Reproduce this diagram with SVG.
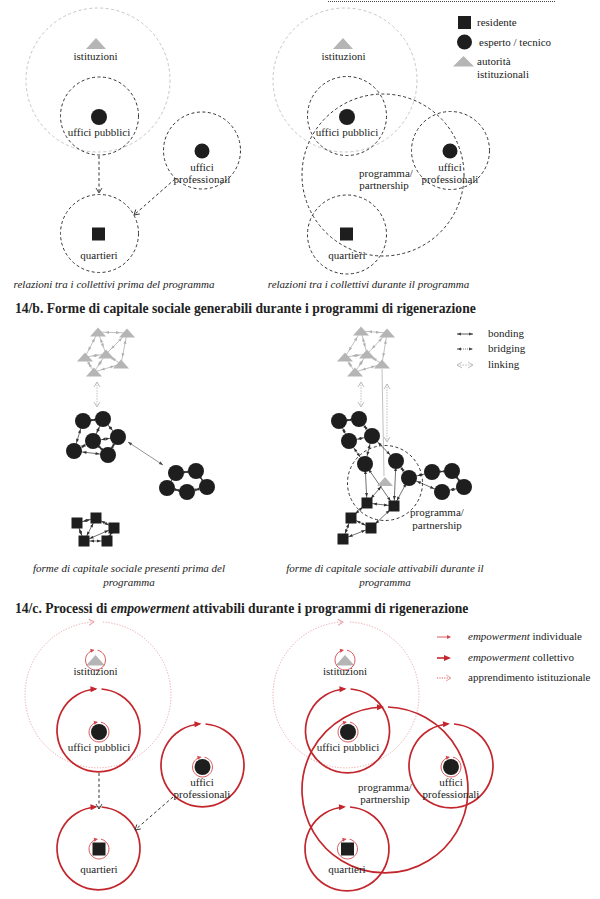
<svg xmlns="http://www.w3.org/2000/svg" width="600" height="899" viewBox="0 0 600 899">
<defs>
<style>
text{font-family:"Liberation Serif","Times New Roman",serif;fill:#222;}
.lb{font-size:11px;text-anchor:middle;}
.cap{font-size:11px;font-style:italic;text-anchor:middle;}
.ttl{font-size:13.6px;font-weight:bold;}
.lg{font-size:11px;}
.gc{fill:none;stroke:#c6c6c6;stroke-width:1;stroke-dasharray:3,2.5;}
.dc{fill:none;stroke:#333;stroke-width:1;stroke-dasharray:3,2.5;}
.dot{fill:#1e1e1e;}
.tri{fill:#b5b5b5;}
.rc{fill:none;stroke:#c3262c;stroke-width:1.7;}
.rs{fill:none;stroke:#d4474d;stroke-width:0.9;}
.pc{fill:none;stroke:#eca3a6;stroke-width:1;stroke-dasharray:1.2,1.6;}
.ge{stroke:#b9b9b9;stroke-width:0.9;fill:none;}
.be{stroke:#333;stroke-width:0.7;fill:none;}
.lk{stroke:#bdbdbd;stroke-width:1;stroke-dasharray:1.5,1.2;fill:none;}
.br{stroke:#666;stroke-width:0.7;fill:none;}
</style>
<marker id="mv" markerUnits="userSpaceOnUse" markerWidth="6" markerHeight="6" refX="5" refY="3" orient="auto" overflow="visible"><path d="M0,0 L5,3 L0,6" fill="none" stroke="#333" stroke-width="0.9"/></marker>
<marker id="gt" markerUnits="userSpaceOnUse" markerWidth="4" markerHeight="3" refX="11" refY="1.5" orient="auto-start-reverse" overflow="visible"><path d="M0,0 L4,1.5 L0,3 z" fill="#b0b0b0"/></marker>
<marker id="bc" markerUnits="userSpaceOnUse" markerWidth="4" markerHeight="3" refX="12.5" refY="1.5" orient="auto-start-reverse" overflow="visible"><path d="M0,0 L4,1.5 L0,3 z" fill="#333"/></marker>
<marker id="bs" markerUnits="userSpaceOnUse" markerWidth="4" markerHeight="3" refX="10" refY="1.5" orient="auto-start-reverse" overflow="visible"><path d="M0,0 L4,1.5 L0,3 z" fill="#333"/></marker>
<marker id="b0" markerUnits="userSpaceOnUse" markerWidth="4" markerHeight="3" refX="4" refY="1.5" orient="auto-start-reverse" overflow="visible"><path d="M0,0 L4,1.5 L0,3 z" fill="#444"/></marker>
<marker id="g0" markerUnits="userSpaceOnUse" markerWidth="6" markerHeight="6" refX="5" refY="3" orient="auto-start-reverse" overflow="visible"><path d="M0,0 L5,3 L0,6" fill="none" stroke="#bdbdbd" stroke-width="1"/></marker>
<marker id="ra" markerUnits="userSpaceOnUse" markerWidth="7" markerHeight="6" refX="5" refY="3" orient="auto" overflow="visible"><path d="M0,0 L7,3 L0,6 z" fill="#c3262c"/></marker>
<marker id="rl" markerUnits="userSpaceOnUse" markerWidth="4" markerHeight="4" refX="3" refY="2" orient="auto" overflow="visible"><path d="M0,0 L4,2 L0,4 z" fill="#d4474d"/></marker>
<marker id="pa" markerUnits="userSpaceOnUse" markerWidth="6" markerHeight="6" refX="4" refY="3" orient="auto" overflow="visible"><path d="M0,0 L5,3 L0,6" fill="none" stroke="#eca3a6" stroke-width="1"/></marker>
</defs>
<rect width="600" height="899" fill="#fff"/>

<!-- ===== 14/a left ===== -->
<g id="a-left">
<g id="a1-istituzioni">
<circle class="gc" cx="98" cy="80" r="72"/>
<polygon class="tri" points="86,49 106,49 96,38"/>
<text class="lb" x="95.5" y="60">istituzioni</text>
</g>
<g id="a1-uffici-pubblici">
<circle class="dc" cx="99.5" cy="116" r="39"/>
<circle class="dot" cx="99" cy="117" r="8"/>
<text class="lb" x="99" y="136">uffici pubblici</text>
</g>
<g id="a1-uffici-professionali">
<circle class="dc" cx="202" cy="150.5" r="38.5"/>
<circle class="dot" cx="202" cy="151" r="7.5"/>
<text class="lb" x="202" y="171">uffici</text>
<text class="lb" x="202" y="183">professionali</text>
</g>
<g id="a1-quartieri">
<circle class="dc" cx="99.5" cy="233.5" r="39"/>
<rect class="dot" x="92" y="227.5" width="13" height="13"/>
<text class="lb" x="99" y="259">quartieri</text>
</g>
<g id="a1-connectors">
<line class="dc" x1="99" y1="156" x2="99" y2="193" marker-end="url(#mv)"/>
<line class="dc" x1="175" y1="179" x2="134" y2="215" marker-end="url(#mv)"/>
</g>
<text class="cap" x="114" y="288">relazioni tra i collettivi prima del programma</text>
</g>

<!-- ===== 14/a right ===== -->
<g id="a-right">
<line x1="328" y1="1.5" x2="556" y2="1.5" stroke="#444" stroke-width="1" stroke-dasharray="1,1"/>
<g id="a2-istituzioni">
<circle class="gc" cx="345" cy="80" r="72"/>
<polygon class="tri" points="333,49 353,49 343,38"/>
<text class="lb" x="343.5" y="60">istituzioni</text>
</g>
<g id="a2-programma">
<circle class="dc" cx="383" cy="175" r="81"/>
<text class="lb" x="386" y="177">programma/</text>
<text class="lb" x="384" y="189">partnership</text>
</g>
<g id="a2-uffici-pubblici">
<circle class="dc" cx="347" cy="116" r="39.5"/>
<circle class="dot" cx="347" cy="117" r="8"/>
<text class="lb" x="347" y="136">uffici pubblici</text>
</g>
<g id="a2-uffici-professionali">
<circle class="dc" cx="450.5" cy="150.5" r="39"/>
<circle class="dot" cx="450" cy="151" r="7.5"/>
<text class="lb" x="450" y="171">uffici</text>
<text class="lb" x="450" y="183">professionali</text>
</g>
<g id="a2-quartieri">
<circle class="dc" cx="347" cy="234.5" r="39.5"/>
<rect class="dot" x="340" y="227.5" width="13" height="13"/>
<text class="lb" x="347" y="259">quartieri</text>
</g>
<text class="cap" x="368.5" y="288">relazioni tra i collettivi durante il programma</text>
</g>

<g id="legend-a">
<rect class="dot" x="458" y="16" width="13" height="13"/>
<text class="lg" x="477" y="26">residente</text>
<circle class="dot" cx="464.5" cy="42" r="7.5"/>
<text class="lg" x="479" y="46">esperto / tecnico</text>
<polygon class="tri" points="453,66.5 474,66.5 463.5,56"/>
<text class="lg" x="477" y="65">autorità</text>
<text class="lg" x="477" y="78">istituzionali</text>
</g>

<!-- ===== 14/b ===== -->
<text class="ttl" x="15" y="313">14/b. Forme di capitale sociale generabili durante i programmi di rigenerazione</text>

<g id="b-left">
<g id="b1-connectors">
<g class="ge" marker-start="url(#gt)" marker-end="url(#gt)">
<line x1="98" y1="332" x2="127" y2="333"/>
<line x1="98" y1="332" x2="85" y2="357"/>
<line x1="98" y1="332" x2="106" y2="354"/>
<line x1="127" y1="333" x2="106" y2="354"/>
<line x1="127" y1="333" x2="121" y2="364"/>
<line x1="85" y1="357" x2="106" y2="354"/>
<line x1="85" y1="357" x2="94" y2="372"/>
<line x1="106" y1="354" x2="94" y2="372"/>
<line x1="106" y1="354" x2="121" y2="364"/>
<line x1="94" y1="372" x2="121" y2="364"/>
</g>
<line class="lk" x1="97" y1="382" x2="97" y2="407" marker-start="url(#g0)" marker-end="url(#g0)"/>
<g class="be" marker-start="url(#bc)" marker-end="url(#bc)">
<line x1="83" y1="421" x2="103" y2="419"/>
<line x1="83" y1="421" x2="74" y2="451"/>
<line x1="103" y1="419" x2="93" y2="441"/>
<line x1="103" y1="419" x2="118" y2="437"/>
<line x1="93" y1="441" x2="118" y2="437"/>
<line x1="93" y1="441" x2="74" y2="451"/>
<line x1="118" y1="437" x2="108" y2="455"/>
<line x1="74" y1="451" x2="108" y2="455"/>
<line x1="93" y1="441" x2="108" y2="455"/>
<line x1="167" y1="488" x2="176" y2="473"/>
<line x1="176" y1="473" x2="196" y2="471"/>
<line x1="196" y1="471" x2="207" y2="487"/>
<line x1="207" y1="487" x2="187" y2="492"/>
<line x1="187" y1="492" x2="167" y2="488"/>
</g>
<line class="br" x1="128" y1="442" x2="163" y2="465" marker-start="url(#b0)" marker-end="url(#b0)"/>
<g class="be" marker-start="url(#bs)" marker-end="url(#bs)">
<line x1="77" y1="523" x2="96" y2="518"/>
<line x1="96" y1="518" x2="114" y2="528"/>
<line x1="114" y1="528" x2="107" y2="541"/>
<line x1="107" y1="541" x2="84" y2="541"/>
<line x1="84" y1="541" x2="77" y2="523"/>
<line x1="84" y1="541" x2="114" y2="528"/>
<line x1="84" y1="541" x2="96" y2="518"/>
</g>
</g>
<g id="b1-istituzioni">
<polygon class="tri" points="90,336.5 106,336.5 98,327.5"/>
<polygon class="tri" points="119,337.5 135,337.5 127,328.5"/>
<polygon class="tri" points="77,361.5 93,361.5 85,352.5"/>
<polygon class="tri" points="98,358.5 114,358.5 106,349.5"/>
<polygon class="tri" points="113,368.5 129,368.5 121,359.5"/>
<polygon class="tri" points="86,376.5 102,376.5 94,367.5"/>
</g>
<g id="b1-esperti-a">
<circle class="dot" cx="83" cy="421" r="8"/>
<circle class="dot" cx="103" cy="419" r="8"/>
<circle class="dot" cx="93" cy="441" r="8"/>
<circle class="dot" cx="118" cy="437" r="8"/>
<circle class="dot" cx="74" cy="451" r="8"/>
<circle class="dot" cx="108" cy="455" r="8"/>
</g>
<g id="b1-esperti-b">
<circle class="dot" cx="176" cy="473" r="8"/>
<circle class="dot" cx="196" cy="471" r="8"/>
<circle class="dot" cx="207" cy="487" r="8"/>
<circle class="dot" cx="167" cy="488" r="8"/>
<circle class="dot" cx="187" cy="492" r="8"/>
</g>
<g id="b1-residenti">
<rect class="dot" x="71.5" y="517.5" width="11" height="11"/>
<rect class="dot" x="90.5" y="512.5" width="11" height="11"/>
<rect class="dot" x="108.5" y="522.5" width="11" height="11"/>
<rect class="dot" x="78.5" y="535.5" width="11" height="11"/>
<rect class="dot" x="101.5" y="535.5" width="11" height="11"/>
</g>
<text class="cap" x="129" y="572">forme di capitale sociale presenti prima del</text>
<text class="cap" x="129" y="586">programma</text>
</g>

<g id="b-right">
<g id="b2-connectors">
<g class="ge" marker-start="url(#gt)" marker-end="url(#gt)">
<line x1="361" y1="331" x2="387" y2="333"/>
<line x1="361" y1="331" x2="345" y2="357"/>
<line x1="361" y1="331" x2="367" y2="354"/>
<line x1="387" y1="333" x2="367" y2="354"/>
<line x1="387" y1="333" x2="382" y2="364"/>
<line x1="345" y1="357" x2="367" y2="354"/>
<line x1="345" y1="357" x2="355" y2="372"/>
<line x1="367" y1="354" x2="355" y2="372"/>
<line x1="367" y1="354" x2="382" y2="364"/>
<line x1="355" y1="372" x2="382" y2="364"/>
</g>
<line class="ge" x1="382" y1="369" x2="384" y2="476"/>
<line class="lk" x1="361" y1="382" x2="361" y2="407" marker-start="url(#g0)" marker-end="url(#g0)"/>
<line class="lk" x1="387" y1="384" x2="387" y2="442" marker-start="url(#g0)" marker-end="url(#g0)"/>
<g class="be" marker-start="url(#bc)" marker-end="url(#bc)">
<line x1="339" y1="421" x2="359" y2="419"/>
<line x1="339" y1="421" x2="349" y2="441"/>
<line x1="359" y1="419" x2="372" y2="436"/>
<line x1="349" y1="441" x2="372" y2="436"/>
<line x1="349" y1="441" x2="365" y2="464"/>
<line x1="372" y1="436" x2="365" y2="464"/>
<line x1="372" y1="436" x2="396" y2="461"/>
<line x1="396" y1="461" x2="409" y2="478"/>
<line x1="409" y1="478" x2="432" y2="472"/>
<line x1="432" y1="472" x2="452" y2="471"/>
<line x1="452" y1="471" x2="464" y2="487"/>
<line x1="464" y1="487" x2="442" y2="492"/>
<line x1="442" y1="492" x2="409" y2="478"/>
</g>
<g class="be" stroke-width="0.6" marker-start="url(#bs)" marker-end="url(#bs)">
<line x1="365" y1="464" x2="367" y2="503"/>
<line x1="365" y1="464" x2="394" y2="506"/>
<line x1="396" y1="461" x2="394" y2="506"/>
<line x1="409" y1="478" x2="394" y2="506"/>
<line x1="385" y1="482" x2="367" y2="503"/>
<line x1="367" y1="503" x2="394" y2="506"/>
<line x1="367" y1="503" x2="351" y2="518"/>
<line x1="394" y1="506" x2="371" y2="528"/>
<line x1="351" y1="518" x2="371" y2="528"/>
<line x1="351" y1="518" x2="343" y2="539"/>
<line x1="371" y1="528" x2="343" y2="539"/>
</g>
</g>
<g id="b2-programma">
<circle class="dc" cx="385" cy="483" r="37.5"/>
<text class="lb" x="437" y="516">programma/</text>
<text class="lb" x="437" y="529">partnership</text>
</g>
<g id="b2-istituzioni">
<polygon class="tri" points="353,335.5 369,335.5 361,326.5"/>
<polygon class="tri" points="379,337.5 395,337.5 387,328.5"/>
<polygon class="tri" points="337,361.5 353,361.5 345,352.5"/>
<polygon class="tri" points="359,358.5 375,358.5 367,349.5"/>
<polygon class="tri" points="374,368.5 390,368.5 382,359.5"/>
<polygon class="tri" points="347,376.5 363,376.5 355,367.5"/>
<polygon class="tri" points="377,486 393,486 385,477"/>
</g>
<g id="b2-esperti">
<circle class="dot" cx="339" cy="421" r="8"/>
<circle class="dot" cx="359" cy="419" r="8"/>
<circle class="dot" cx="349" cy="441" r="8"/>
<circle class="dot" cx="372" cy="436" r="8"/>
<circle class="dot" cx="365" cy="464" r="8"/>
<circle class="dot" cx="396" cy="461" r="8"/>
<circle class="dot" cx="409" cy="478" r="8"/>
<circle class="dot" cx="432" cy="472" r="8"/>
<circle class="dot" cx="452" cy="471" r="8"/>
<circle class="dot" cx="464" cy="487" r="8"/>
<circle class="dot" cx="442" cy="492" r="8"/>
</g>
<g id="b2-residenti">
<rect class="dot" x="361.5" y="497.5" width="11" height="11"/>
<rect class="dot" x="388.5" y="500.5" width="11" height="11"/>
<rect class="dot" x="345.5" y="512.5" width="11" height="11"/>
<rect class="dot" x="365.5" y="522.5" width="11" height="11"/>
<rect class="dot" x="337.5" y="533.5" width="11" height="11"/>
</g>
<text class="cap" x="385" y="572">forme di capitale sociale attivabili durante il</text>
<text class="cap" x="385" y="586">programma</text>
</g>

<g id="legend-b">
<line x1="457" y1="334" x2="473" y2="334" stroke="#333" stroke-width="0.8" marker-start="url(#b0)" marker-end="url(#b0)"/>
<text class="lg" x="488" y="337">bonding</text>
<line x1="457" y1="349" x2="473" y2="349" stroke="#555" stroke-width="0.8" stroke-dasharray="1,1" marker-start="url(#b0)" marker-end="url(#b0)"/>
<text class="lg" x="488" y="352">bridging</text>
<line class="lk" x1="457" y1="365" x2="473" y2="365" marker-start="url(#g0)" marker-end="url(#g0)"/>
<text class="lg" x="488" y="368">linking</text>
</g>

<!-- ===== 14/c ===== -->
<text class="ttl" x="15" y="613">14/c. Processi di <tspan font-style="italic">empowerment</tspan> attivabili durante i programmi di rigenerazione</text>

<g id="c-left">
<g id="c1-istituzioni">
<path class="pc" d="M103,622 A73,73 0 1 1 93,622" marker-end="url(#pa)"/>
<polygon class="tri" points="86,665.5 105,665.5 95.5,655"/>
<path class="rs" d="M97.5,650.2 A10,10 0 1 1 93.5,650.2" marker-end="url(#rl)"/>
<text class="lb" x="95.5" y="675">istituzioni</text>
</g>
<g id="c1-uffici-pubblici">
<path class="rc" d="M101.5,689 A41.5,41.5 0 1 1 95.5,689" marker-end="url(#ra)"/>
<circle class="dot" cx="99" cy="732" r="8"/>
<path class="rs" d="M101,722.2 A10,10 0 1 1 97,722.2" marker-end="url(#rl)"/>
<text class="lb" x="99" y="751">uffici pubblici</text>
</g>
<g id="c1-uffici-professionali">
<path class="rc" d="M205.5,724 A41.5,41.5 0 1 1 199.5,724" marker-end="url(#ra)"/>
<circle class="dot" cx="202.5" cy="767" r="8"/>
<path class="rs" d="M204.5,757.2 A10,10 0 1 1 200.5,757.2" marker-end="url(#rl)"/>
<text class="lb" x="202" y="786">uffici</text>
<text class="lb" x="202" y="798">professionali</text>
</g>
<g id="c1-quartieri">
<path class="rc" d="M101.5,807 A41.5,41.5 0 1 1 95.5,807" marker-end="url(#ra)"/>
<rect class="dot" x="92.5" y="842.5" width="13" height="13"/>
<path class="rs" d="M101,839.2 A10,10 0 1 1 97,839.2" marker-end="url(#rl)"/>
<text class="lb" x="99" y="873">quartieri</text>
</g>
<g id="c1-connectors">
<line class="dc" x1="99" y1="773" x2="99" y2="809" marker-end="url(#mv)"/>
<line class="dc" x1="173" y1="797" x2="135" y2="830" marker-end="url(#mv)"/>
</g>
</g>

<g id="c-right">
<g id="c2-istituzioni">
<path class="pc" d="M350,622 A73,73 0 1 1 342,622" marker-end="url(#pa)"/>
<polygon class="tri" points="335.5,665.5 354.5,665.5 345,655"/>
<path class="rs" d="M347,650.2 A10,10 0 1 1 343,650.2" marker-end="url(#rl)"/>
<text class="lb" x="345" y="675">istituzioni</text>
</g>
<g id="c2-programma">
<path class="rc" d="M388,707 A83,83 0 1 1 382,707" marker-end="url(#ra)"/>
<text class="lb" x="385" y="791">programma/</text>
<text class="lb" x="385" y="803">partnership</text>
</g>
<g id="c2-uffici-pubblici">
<path class="rc" d="M350.5,689 A42,42 0 1 1 344.5,689" marker-end="url(#ra)"/>
<circle class="dot" cx="348" cy="732" r="8"/>
<path class="rs" d="M350,722.2 A10,10 0 1 1 346,722.2" marker-end="url(#rl)"/>
<text class="lb" x="348" y="751">uffici pubblici</text>
</g>
<g id="c2-uffici-professionali">
<path class="rc" d="M454,724 A42,42 0 1 1 448,724" marker-end="url(#ra)"/>
<circle class="dot" cx="451" cy="767" r="8"/>
<path class="rs" d="M453,757.2 A10,10 0 1 1 449,757.2" marker-end="url(#rl)"/>
<text class="lb" x="451" y="786">uffici</text>
<text class="lb" x="451" y="798">professionali</text>
</g>
<g id="c2-quartieri">
<path class="rc" d="M350,807 A42,42 0 1 1 344,807" marker-end="url(#ra)"/>
<rect class="dot" x="341" y="842.5" width="13" height="13"/>
<path class="rs" d="M349.5,839.2 A10,10 0 1 1 345.5,839.2" marker-end="url(#rl)"/>
<text class="lb" x="347" y="873">quartieri</text>
</g>
</g>

<g id="legend-c">
<line x1="437" y1="637" x2="450" y2="637" stroke="#d4474d" stroke-width="0.9" marker-end="url(#rl)"/>
<text class="lg" x="468" y="640"><tspan font-style="italic">empowerment</tspan> individuale</text>
<line x1="437" y1="658" x2="449" y2="658" stroke="#c3262c" stroke-width="1.6" marker-end="url(#ra)"/>
<text class="lg" x="468" y="661"><tspan font-style="italic">empowerment</tspan> collettivo</text>
<line x1="437" y1="678" x2="450" y2="678" stroke="#d85a5e" stroke-width="1.1" stroke-dasharray="1.2,1.2" marker-end="url(#pa)"/>
<text class="lg" x="468" y="681">apprendimento istituzionale</text>
</g>
</svg>
